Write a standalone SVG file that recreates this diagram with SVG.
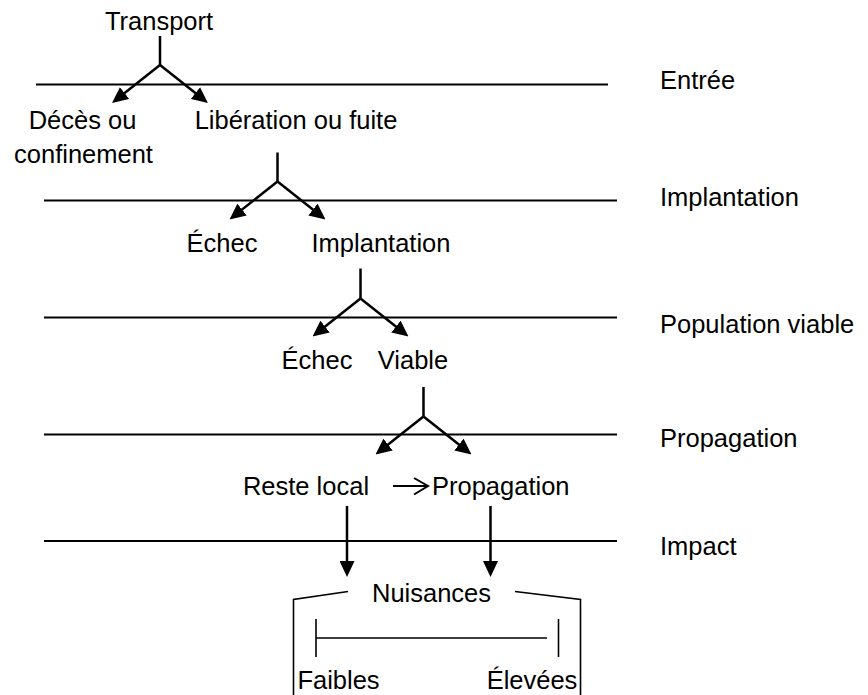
<svg xmlns="http://www.w3.org/2000/svg" width="868" height="695" viewBox="0 0 868 695">
<style>
text{font-family:"Liberation Sans",Arial,sans-serif;font-size:25.5px;fill:#000}
.m{text-anchor:middle}
.lvl{stroke:#000;stroke-width:2;fill:none}
.fork{stroke:#000;stroke-width:2.5;fill:none}
.arr{marker-end:url(#ah)}
.thin{stroke:#000;stroke-width:1.6;fill:none}
</style>
<defs>
<marker id="ah" viewBox="0 0 16 15" refX="8" refY="7.5" markerWidth="16" markerHeight="15" markerUnits="userSpaceOnUse" orient="auto">
<path d="M0,0 L16,7.5 L0,15 z" fill="#000"/>
</marker>
</defs>
<rect width="868" height="695" fill="#fff"/>
<g id="levels">
<line class="lvl" x1="36" y1="84.5" x2="608" y2="84.5"/>
<line class="lvl" x1="44" y1="200.5" x2="617" y2="200.5"/>
<line class="lvl" x1="44" y1="317.5" x2="617" y2="317.5"/>
<line class="lvl" x1="44" y1="434.5" x2="617" y2="434.5"/>
<line class="lvl" x1="44" y1="541" x2="617" y2="541"/>
</g>
<g id="level-labels">
<text id="lbl-entree" x="660" y="89">Entrée</text>
<text id="lbl-implantation" x="660" y="206">Implantation</text>
<text id="lbl-population" x="660" y="332.5">Population viable</text>
<text id="lbl-propagation" x="660" y="447">Propagation</text>
<text id="lbl-impact" x="660" y="555">Impact</text>
</g>
<g id="connectors">
<path class="fork" d="M160,36 V65"/>
<path class="fork arr" d="M160,65 L118.3,98"/>
<path class="fork arr" d="M160,65 L201.7,98"/>
<path class="fork" d="M277.5,152.5 V181.5"/>
<path class="fork arr" d="M277.5,181.5 L235.8,214.5"/>
<path class="fork arr" d="M277.5,181.5 L319.2,214.5"/>
<path class="fork" d="M360.5,268.5 V298.5"/>
<path class="fork arr" d="M360.5,298.5 L318.8,331.5"/>
<path class="fork arr" d="M360.5,298.5 L402.2,331.5"/>
<path class="fork" d="M423.5,387 V416.5"/>
<path class="fork arr" d="M423.5,416.5 L381.8,449.5"/>
<path class="fork arr" d="M423.5,416.5 L465.2,449.5"/>
<path class="lvl" d="M393,486 H427 M414,478 L428,486 L414,494.5"/>
<path class="fork arr" d="M347,506 V569"/>
<path class="fork arr" d="M490.5,506 V569"/>
</g>
<g id="n-transport"><text class="m" x="159" y="30">Transport</text></g>
<g id="n-deces"><text class="m" x="82.5" y="129">Décès ou</text><text class="m" x="83.5" y="163">confinement</text></g>
<g id="n-liberation"><text class="m" x="296" y="129">Libération ou fuite</text></g>
<g id="n-echec1"><text class="m" x="222" y="251.5">Échec</text></g>
<g id="n-implantation"><text class="m" x="381" y="251.5">Implantation</text></g>
<g id="n-echec2"><text class="m" x="317" y="369">Échec</text></g>
<g id="n-viable"><text class="m" x="413" y="369">Viable</text></g>
<g id="n-reste"><text class="m" x="306" y="495">Reste local</text></g>
<g id="n-propagation"><text x="432" y="495">Propagation</text></g>
<g id="n-nuisances">
<text class="m" x="431.5" y="601.5">Nuisances</text>
<path class="thin" d="M348,591.5 L293.5,599.5 V695 M515,591.5 L580.5,599.5 V695"/>
<path class="thin" d="M316,619 V657 M316,638 H547 M558.5,619 V657"/>
<text class="m" x="338.5" y="688.5">Faibles</text>
<text class="m" x="532" y="688.5">Élevées</text>
</g>
</svg>
